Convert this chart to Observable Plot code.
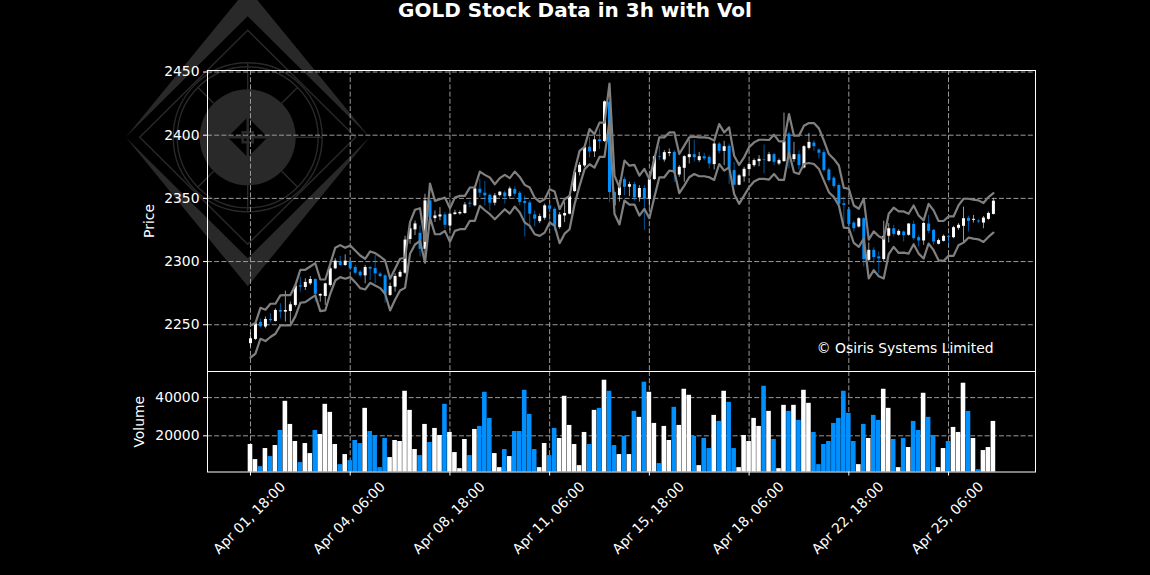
<!DOCTYPE html>
<html>
<head>
<meta charset="utf-8">
<script src="https://cdn.jsdelivr.net/npm/d3@7"></script>
<script src="https://cdn.jsdelivr.net/npm/@observablehq/plot@0.6"></script>
<style>
html,body{margin:0;padding:0;background:#000;width:1150px;height:575px;overflow:hidden;font-family:"DejaVu Sans",sans-serif;}
#title{position:absolute;left:0;top:-1px;width:1150px;text-align:center;color:#fff;font:bold 20px/22px "DejaVu Sans",sans-serif;z-index:3;}
#logo{position:absolute;left:0;top:0;z-index:0;}
#price,#vol{position:absolute;left:0;z-index:1;}
#price{top:0;}
#vol{top:371px;}
svg{overflow:visible;}
</style>
</head>
<body>
<div id="title">GOLD Stock Data in 3h with Vol</div>
<svg id="logo" width="1150" height="575" viewBox="0 0 1150 575" aria-hidden="true">
  <g transform="translate(247.7,137.3)" fill="none" stroke="#292929" stroke-width="1.4">
    <path fill="#292929" stroke="none" fill-rule="evenodd" d="M-122,0L0,-149L122,0L0,149ZM-122,0L0,121L122,0L0,-121Z"/>
    <path d="M-108,0L0,-107L108,0L0,107Z"/>
    <circle r="74.5"/>
    <circle r="70.5"/>
    <circle r="48" fill="#292929" stroke="none"/>
    <path d="M0,-74V74M-74,0H74M-50,-50L-34,-34M50,-50L34,-34M-50,50L-34,34M50,50L34,34"/>
    <path fill="#000" stroke="none" d="M-20,0L0,-20L20,0L0,20Z"/>
    <path stroke="#292929" stroke-width="2.5" d="M0,-20V20M-20,0H20M-5,-5H5V5H-5Z"/>
  </g>
</svg>
<div id="price"></div>
<div id="vol"></div>
<script>
const open = [2235,2238.4,2251.8,2248.2,2254.2,2252.6,2261.3,2260,2260.5,2265.3,
2280.8,2279.5,2282.4,2285.8,2272.7,2272.4,2281.1,2294.3,2299.3,2296.9,
2300.1,2295.3,2291.6,2288.7,2295.3,2294.5,2290.1,2288.7,2273.2,2279.8,
2287.7,2290.8,2317.5,2325.1,2322.4,2309.7,2348,2334,2335.3,2336.9,
2328.2,2337.2,2337.7,2338,2346.2,2344.1,2357.2,2354.1,2352.5,2346.2,
2352.2,2354.3,2351.4,2357,2354.1,2347.5,2346.4,2336.9,2331.6,2334.3,
2344.1,2341.4,2326.9,2336.1,2337.5,2355.4,2370.4,2375.7,2390.5,2386.8,
2396.3,2395,2425.9,2354.6,2352.2,2364.9,2358.8,2360.9,2350.4,2357.8,
2349.3,2364.9,2383,2380.4,2385.4,2386.4,2368.5,2373.8,2382.2,2384.6,
2379.9,2383,2382.5,2376.7,2393,2387.2,2391.2,2372,2360.4,2367,
2372.8,2375.9,2379.1,2380.4,2379.1,2384.6,2377.2,2379.1,2400.9,2380.7,
2384.6,2374.1,2389.6,2393.8,2388.3,2386.2,2372.5,2366,2360.2,2345.7,
2341,2330.5,2327.3,2333.9,2301,2308.9,2303.7,2301.6,2320,2326,
2320.8,2323.4,2320.8,2329.4,2318.9,2316.3,2329.7,2324.7,2313.7,2316,
2320,2318.9,2326.3,2327.9,2334.2,2332.6,2332.1,2330.5,2333.4,2337.3];
const close = [2238.9,2250.8,2248.4,2254.2,2253.2,2261.3,2260,2261.3,2265.8,2280.6,
2279.8,2283.5,2285.8,2274,2274,2282.4,2294.3,2300.3,2296.9,2300.3,
2294.3,2290.8,2288.7,2295.3,2294,2290.3,2288.2,2274,2280.3,2288.2,
2291.4,2317,2325.9,2329.8,2309.7,2348,2334.8,2336.1,2336.9,2328.7,
2337.5,2338.5,2338.8,2344.8,2345.4,2357.5,2354.1,2352,2346.2,2352,
2354.9,2351.2,2357.5,2353.3,2346.7,2345.9,2337.5,2333.5,2335.6,2344.1,
2341.4,2328.2,2336.9,2338,2351.7,2370.4,2376.2,2390.2,2386.8,2396.3,
2395,2426.4,2354.6,2344,2358.8,2358.8,2360.9,2350.4,2357.8,2349.3,
2364.9,2383,2382.5,2386.2,2386.4,2369.9,2374.6,2383,2384.6,2382.2,
2383,2381.2,2377.2,2393,2387.2,2390.9,2374.1,2360.4,2367.8,2373,
2376.7,2379.9,2380.9,2379.9,2384.6,2378.5,2379.9,2395.1,2383.8,2384.6,
2375.9,2390.9,2394.3,2390.9,2385.7,2372,2364.1,2359.4,2345.2,2344.4,
2329.4,2326,2333.9,2301.6,2308.9,2303.2,2302.1,2320,2326,2321.5,
2323.9,2320.5,2329.7,2318.1,2316.3,2330.2,2323.9,2315.5,2316.6,2320,
2319.2,2326.8,2328.7,2333.9,2331.8,2333.4,2331.3,2334.4,2338.1,2347.8];
const high = [2243.4,2252.1,2254.7,2256.1,2258.7,2262.6,2266.6,2276.6,2267.9,2282.4,
2287.7,2286.4,2288.2,2286.4,2274.5,2282.9,2295.6,2302.2,2304,2305.3,
2300.9,2296.9,2293,2296.9,2296.1,2304.8,2291.6,2289.8,2282.9,2290.3,
2292.9,2320,2329.6,2332,2328.2,2353.3,2349.3,2340.1,2342.7,2338.8,
2338.8,2340.6,2340.1,2346.7,2348,2359.9,2365.2,2363.3,2353.3,2353.8,
2355.4,2355.9,2359.1,2359.1,2355.4,2352,2348,2340.1,2337.5,2345.4,
2346.7,2342.7,2338.8,2346.7,2354.6,2371.8,2378.4,2392.3,2398.2,2399.5,
2404.8,2427.2,2427.2,2355.5,2364.1,2366.7,2362.8,2362.8,2360.1,2360.1,
2366.2,2383.8,2391.2,2387.8,2389.1,2387.8,2375.9,2383.8,2396.2,2396.2,
2386.4,2385.7,2383.8,2394.3,2394.3,2395.1,2393,2378.5,2368.8,2374.6,
2378.5,2381.2,2383.8,2392.2,2386.4,2385.7,2381.2,2417.5,2402.2,2394.3,
2387.8,2391.7,2401.4,2395.7,2389.1,2388.3,2374.1,2367.3,2361.5,2351,
2342.6,2332,2334.7,2334.7,2314.7,2311,2307.6,2332,2330,2328.7,
2325.2,2324.2,2330,2332,2320.8,2330.8,2336.5,2325.5,2317.9,2321,
2320.8,2327.9,2330,2343.1,2335.7,2336.5,2333.1,2335.7,2339.2,2349.7];
const low = [2232.3,2237.6,2247.6,2246.8,2251.6,2252.1,2254.7,2252.1,2250.8,2264,
2275.8,2277.1,2281.1,2267.9,2267.9,2265.3,2279.8,2293.5,2296.1,2296.1,
2293,2289.8,2287.7,2282.4,2285,2282.4,2287.2,2267.1,2272.4,2275.8,
2287.2,2289.8,2313.7,2320.6,2303.7,2301.8,2330.9,2330.9,2332.2,2325.6,
2324.3,2336.7,2336.7,2337.5,2342.7,2343.3,2350.6,2344.1,2340.1,2344.1,
2351.2,2345.4,2350.1,2351.2,2344.1,2319.5,2325.6,2327.4,2330.1,2332.7,
2326.9,2324.3,2325.6,2330.9,2336.9,2354.6,2367.8,2374.4,2382.3,2382.3,
2388.9,2394.2,2346.7,2339,2347,2352.2,2351.4,2347.8,2347,2324.6,
2343,2364.1,2379.9,2378.6,2383,2362.8,2366.7,2362.8,2377.2,2378.5,
2378.5,2379.9,2373.3,2372.5,2385.1,2375.9,2360.9,2359.9,2359.9,2362.8,
2371.4,2374.6,2375.1,2369.3,2378.5,2375.9,2375.9,2378.5,2373.3,2378.5,
2372.5,2373.3,2388.3,2387.2,2381.2,2370.7,2362.8,2357.6,2343.6,2330,
2327.3,2323.4,2326.5,2295.8,2299.7,2298.4,2290.6,2299.7,2314.7,2319.5,
2320,2315.5,2320,2316.8,2311.6,2312.9,2322.1,2312.9,2313.1,2315.5,
2312.9,2318.1,2324.7,2314.7,2323.4,2330.5,2330,2326,2332.6,2336.8];
const upperBand = [2249.5,2251.3,2263.4,2261.9,2266.6,2266.6,2273.2,2273.5,2273.5,2281.1,
2293.5,2293.5,2296.1,2298.7,2285.8,2285.8,2298.2,2310.9,2313,2310.9,
2312.7,2308.8,2304.8,2302.2,2308,2306.7,2304,2300.9,2286.4,2294.3,
2302.2,2303,2331.2,2341,2342.2,2316.3,2361.7,2348,2349.3,2350.6,
2342.2,2350.6,2352,2352,2358.6,2358.6,2371.2,2368.6,2366.5,2361.2,
2366,2368.6,2366,2371.2,2367,2360.7,2358.6,2350.6,2347.2,2349.3,
2357.2,2355.4,2341.4,2349.3,2352,2371.8,2387.6,2390.8,2404.8,2400.8,
2410,2410,2440.9,2368,2358.8,2379.9,2375.9,2376.5,2368,2373.3,
2365.4,2381.2,2398.3,2398.3,2402.2,2402.2,2385.1,2391.7,2398.3,2398.8,
2398.3,2398.3,2397.8,2395.7,2408.8,2402.2,2406.2,2383.8,2376.5,2382.5,
2390.4,2394.3,2396.4,2396.4,2396.2,2400.4,2395.1,2395.1,2416.7,2399.6,
2399.6,2407.5,2409.6,2409.6,2405.4,2395.7,2385.1,2381.2,2376,2358.3,
2357.6,2344.4,2341.8,2349.7,2317.4,2323.9,2320,2318.1,2337.8,2342.6,
2339.7,2339.7,2337.8,2344.4,2336.5,2332.6,2345.7,2340.5,2332.1,2332.1,
2335.7,2335.7,2344.4,2349.7,2349.7,2348.9,2348.4,2346.3,2351,2354.1];
const lowerBand = [2223.9,2227.1,2238.9,2237.1,2240.3,2242.9,2249.5,2249.5,2249.5,2256.6,
2267.4,2267.9,2270.6,2273.2,2260.8,2261.3,2274.5,2285,2287.7,2286.4,
2287.7,2283.7,2279,2277.9,2283.2,2281.1,2279,2274.5,2261.3,2269.8,
2277.1,2279.2,2306.1,2313.5,2316.3,2299.2,2334.8,2321.6,2321.6,2324.3,
2315.6,2324.3,2325.6,2325.6,2332.2,2332.2,2344.1,2340.6,2337.5,2333.5,
2337.5,2341.4,2338,2343.5,2338.8,2330.9,2328.2,2321.6,2320.3,2322.9,
2330.9,2328.2,2314.5,2322.1,2325.6,2345.4,2359.9,2373.1,2377,2374.4,
2382.8,2382.8,2411.3,2337.8,2329.4,2348.3,2345.1,2345.1,2336.4,2341.7,
2334.3,2350.9,2366.7,2366.7,2372,2371.4,2354.1,2360.1,2366.7,2369.3,
2367.5,2367.5,2366.7,2364.6,2377.2,2372,2374.6,2353.5,2345.7,2352.2,
2358.8,2363.3,2365.4,2365.4,2364.9,2369.3,2364.6,2364.6,2386.4,2370.7,
2369.3,2377.2,2378,2377.2,2373.3,2364.1,2354.9,2351,2344.4,2326.8,
2326.5,2314.7,2311.6,2318.1,2286.6,2293.2,2288.4,2286.6,2305.8,2311.6,
2306.8,2307.1,2306.3,2313.7,2306.3,2302.4,2314.2,2309,2301,2300.5,
2304.5,2304.5,2312.9,2315,2318.9,2318.1,2317.6,2315.5,2319.5,2322.9];
const volume = [15440,7545,3860,13330,9125,14910,22805,38065,25960,17020,
5970,15965,10700,22805,20700,36490,32280,15440,4915,10180,
7020,17545,15965,34385,22280,20175,3335,18600,8600,17545,
17020,43330,33330,12810,9650,25960,16490,23860,20175,36490,
21755,11230,2810,18070,9650,23330,24910,42800,29120,10700,
3335,12810,9125,22280,22280,43850,31225,12810,3335,15965,
9650,23860,18600,40700,25440,15440,4390,21755,15440,33330,
34385,49120,43330,14910,10180,19650,10180,32800,29650,48065,
42800,26490,5440,24910,17545,34910,25440,44380,41225,19650,
4390,18600,13330,30700,27540,43330,37540,13330,3335,20175,
17020,29120,24910,45960,32800,18070,2810,35960,32800,35960,
28070,43850,37010,21755,4915,15440,17020,26490,29120,43330,
31750,17020,4915,25960,18600,30700,28070,44380,34385,18070,
3335,18600,13860,27540,22805,42280,29650,20175,3335,13330,
17020,24385,21755,47540,32800,18600,2280,12280,13860,27540];

const xTickIndex = [0,20,40,60,80,100,120,140];
const xTickLabels = ["Apr 01, 18:00","Apr 04, 06:00","Apr 08, 18:00","Apr 11, 06:00","Apr 15, 18:00","Apr 18, 06:00","Apr 22, 18:00","Apr 25, 06:00"];
const priceTicks = [2250,2300,2350,2400,2450];
const volumeTicks = [20000,40000];

const UP = "#ffffff", DOWN = "#0090ff", GRID = "#9a9a9a", BAND = "#808080";
const FONT = "DejaVu Sans, sans-serif", FS = 13.9;
const rows = open.map((o,i)=>({i,open:o,close:close[i],high:high[i],low:low[i],upper:upperBand[i],lower:lowerBand[i],volume:volume[i],color:close[i]>=o?UP:DOWN}));
const xDomain = [-8.62,157.44];
const dash = "5,2.2";
const baseStyle = {background:"transparent",color:"#fff",fontFamily:FONT,fontSize:FS+"px",overflow:"visible"};

const price = Plot.plot({
  width:1150,height:372,marginLeft:207,marginRight:115,marginTop:70,marginBottom:1,
  style:baseStyle,
  x:{domain:xDomain,axis:null},
  y:{domain:[2213,2451.2],axis:null},
  marks:[
    Plot.ruleX(xTickIndex,{stroke:GRID,strokeWidth:1,strokeDasharray:dash}),
    Plot.ruleY(priceTicks,{stroke:GRID,strokeWidth:1,strokeDasharray:dash}),
    Plot.ruleX(rows,{x:"i",y1:"low",y2:"high",stroke:"color",strokeWidth:0.6}),
    Plot.ruleX(rows,{x:"i",y1:"open",y2:"close",stroke:"color",strokeWidth:3}),
    Plot.line(rows,{x:"i",y:"upper",stroke:BAND,strokeWidth:2.2}),
    Plot.line(rows,{x:"i",y:"lower",stroke:BAND,strokeWidth:2.2}),
    Plot.axisY(priceTicks,{anchor:"left",tickSize:4,tickPadding:4,label:null,stroke:"#fff",color:"#fff",fontSize:FS,tickFormat:d=>String(d)}),
    Plot.text(["Price"],{frameAnchor:"left",dx:-58,rotate:-90,fill:"#fff",fontSize:FS,textAnchor:"middle"}),
    Plot.text(["© Osiris Systems Limited"],{frameAnchor:"bottom-right",dx:-42,dy:-23,textAnchor:"end",lineAnchor:"middle",fill:"#fff",fontSize:FS}),
    Plot.frame({stroke:"#fff",strokeWidth:1})
  ]
});
document.getElementById("price").appendChild(price);

const vol = Plot.plot({
  width:1150,height:204,marginLeft:207,marginRight:115,marginTop:0,marginBottom:103.5,
  style:baseStyle,
  x:{domain:xDomain,axis:null},
  y:{domain:[1050,53680],axis:null},
  marks:[
    Plot.ruleX(xTickIndex,{stroke:GRID,strokeWidth:1,strokeDasharray:dash}),
    Plot.ruleY(volumeTicks,{stroke:GRID,strokeWidth:1,strokeDasharray:dash}),
    Plot.rectY(rows,{x1:d=>d.i-0.46,x2:d=>d.i+0.46,y1:0,y2:"volume",fill:"color",clip:true}),
    Plot.axisY(volumeTicks,{anchor:"left",tickSize:4,tickPadding:4,label:null,stroke:"#fff",color:"#fff",fontSize:FS,tickFormat:d=>String(d)}),
    Plot.axisX(xTickIndex,{anchor:"bottom",tickSize:4,tickFormat:()=>"",label:null,stroke:"#fff"}),
    Plot.text(xTickIndex,{x:d=>d,text:(d,j)=>xTickLabels[j],frameAnchor:"bottom",dx:-1,dy:46,rotate:-45,textAnchor:"middle",lineAnchor:"middle",fill:"#fff",fontSize:FS}),
    Plot.text(["Volume"],{frameAnchor:"left",dx:-68,rotate:-90,fill:"#fff",fontSize:FS,textAnchor:"middle"}),
    Plot.frame({stroke:"#fff",strokeWidth:1})
  ]
});
document.getElementById("vol").appendChild(vol);
</script>
</body>
</html>
